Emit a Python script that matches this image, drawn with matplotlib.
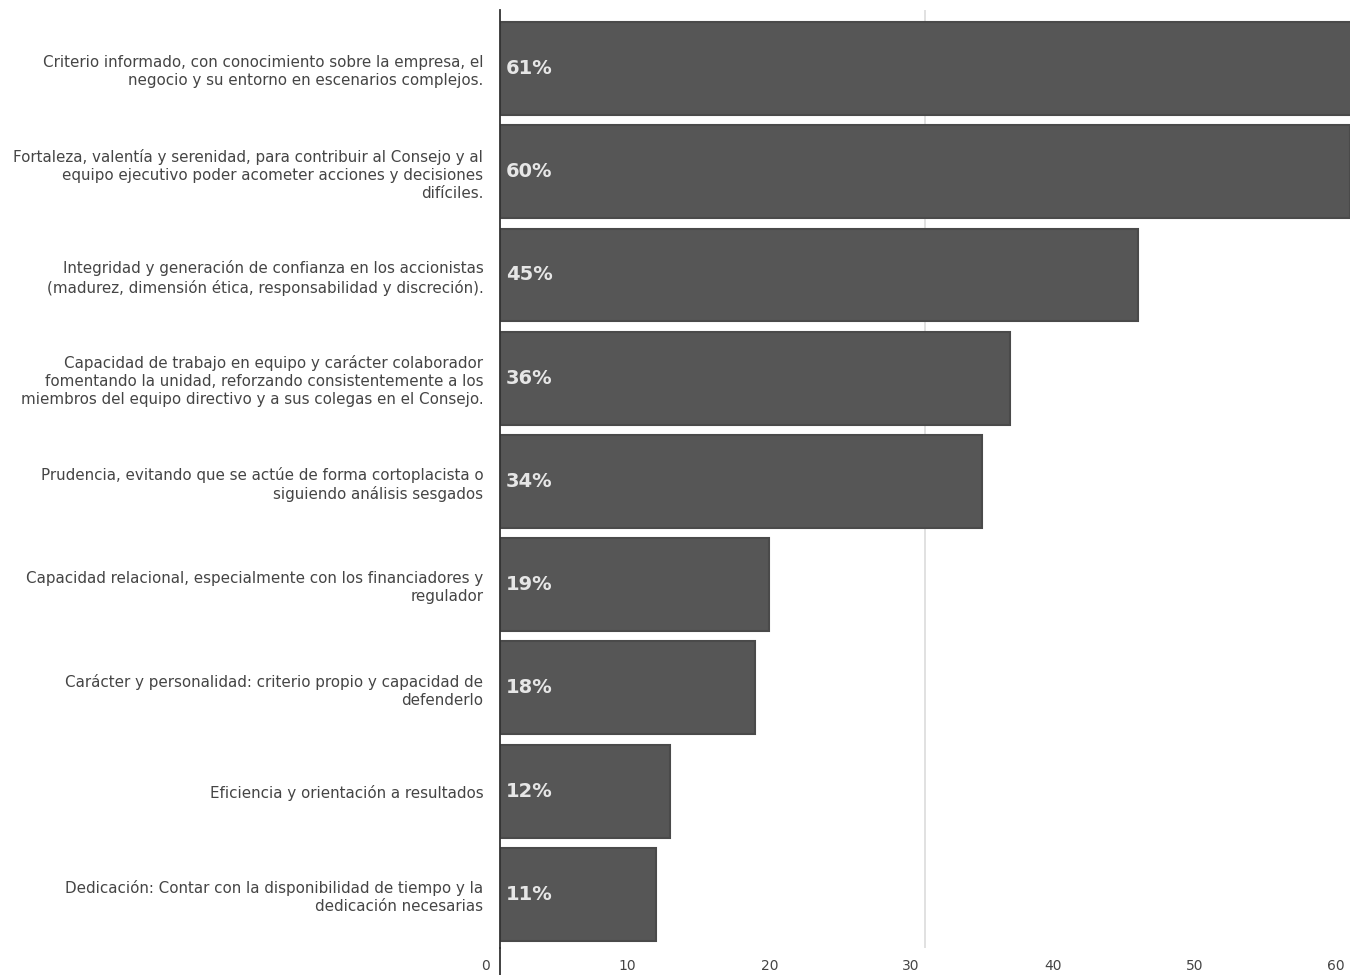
import matplotlib
matplotlib.use("Agg")
import matplotlib.pyplot as plt
import matplotlib.transforms as mtransforms
from matplotlib.lines import Line2D

categories = [
    "Criterio informado, con conocimiento sobre la empresa, el\nnegocio y su entorno en escenarios complejos.",
    "Fortaleza, valentía y serenidad, para contribuir al Consejo y al\nequipo ejecutivo poder acometer acciones y decisiones\ndifíciles.",
    "Integridad y generación de confianza en los accionistas\n(madurez, dimensión ética, responsabilidad y discreción).",
    "Capacidad de trabajo en equipo y carácter colaborador\nfomentando la unidad, reforzando consistentemente a los\nmiembros del equipo directivo y a sus colegas en el Consejo.",
    "Prudencia, evitando que se actúe de forma cortoplacista o\nsiguiendo análisis sesgados",
    "Capacidad relacional, especialmente con los financiadores y\nregulador",
    "Carácter y personalidad: criterio propio y capacidad de\ndefenderlo",
    "Eficiencia y orientación a resultados",
    "Dedicación: Contar con la disponibilidad de tiempo y la\ndedicación necesarias",
]
values = [61, 60, 45, 36, 34, 19, 18, 12, 11]
value_labels = ["61%", "60%", "45%", "36%", "34%", "19%", "18%", "12%", "11%"]
x_ticks = [0, 10, 20, 30, 40, 50, 60]

plt.rcParams['font.family'] = ['DejaVu Sans']

fig = plt.figure(figsize=(13.5, 9.75), dpi=100)
ax = fig.add_axes([500 / 1350, 27 / 975, 850 / 1350, 938 / 975])

ypos = list(range(len(values)))
ax.barh(ypos, values, height=0.9, color='#565656', edgecolor='#4a4a4a', linewidth=1.5, zorder=2)
ax.axvline(30, color='#dcdcdc', lw=1.2, zorder=1)

for y, lab in zip(ypos, value_labels):
    ax.text(0.4, y, lab, color='#e6e6e6', fontsize=14, fontweight='bold',
            va='center', ha='left', zorder=3)

ax.set_xlim(0, 60)
ax.set_ylim(8.52, -0.567)
ax.set_yticks(ypos)
ax.set_yticklabels(categories, fontsize=10.9, color='#454545', linespacing=1.25)
ax.set_xticks(x_ticks)
ax.set_xticklabels([str(t) for t in x_ticks], fontsize=10, color='#454545')
ax.tick_params(axis='y', length=0, pad=12)
ax.tick_params(axis='x', length=0, pad=8)

# scanned tick labels sit a bit left of their positions
shift = mtransforms.ScaledTranslation(-14 / 100, 0, fig.dpi_scale_trans)
for lbl in ax.get_xticklabels():
    lbl.set_transform(lbl.get_transform() + shift)

for s in ['top', 'right', 'bottom']:
    ax.spines[s].set_visible(False)
ax.spines['left'].set_color('#333333')
ax.spines['left'].set_linewidth(1.3)

# axis line runs to the bottom edge
fig.add_artist(Line2D([500 / 1350, 500 / 1350], [0, 27 / 975], color='#333333', lw=1.3))

fig.savefig("out.png", dpi=100)
